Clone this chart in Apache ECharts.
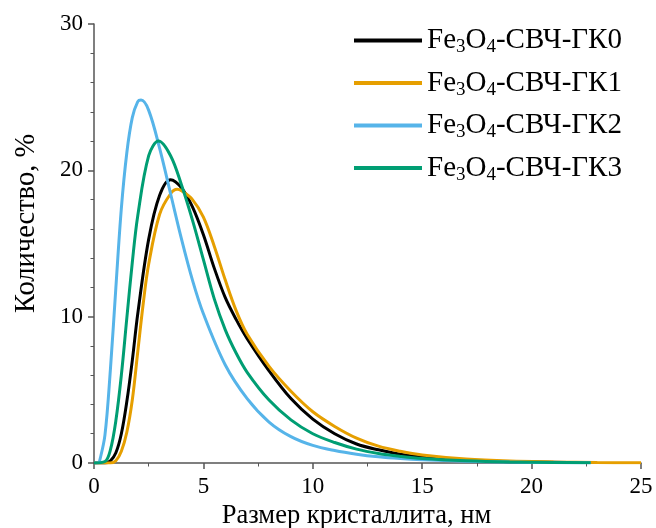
<!DOCTYPE html>
<html>
<head>
<meta charset="utf-8">
<script src="https://cdn.jsdelivr.net/npm/echarts@6/dist/echarts.min.js"></script>
<style>html,body{margin:0;padding:0;background:#fff;}#c{width:656px;height:528px;}</style>
</head>
<body>
<div id="c"></div>
<script>
// Data
const seriesNames = ['Fe3O4-СВЧ-ГК0', 'Fe3O4-СВЧ-ГК1', 'Fe3O4-СВЧ-ГК2', 'Fe3O4-СВЧ-ГК3'];
const legendLabels = ['Fe{s|3}O{s|4}-СВЧ-ГК0', 'Fe{s|3}O{s|4}-СВЧ-ГК1', 'Fe{s|3}O{s|4}-СВЧ-ГК2', 'Fe{s|3}O{s|4}-СВЧ-ГК3'];

const xGK0 = [0, 0.5, 0.75, 1, 1.25, 1.5, 1.75, 2, 2.5, 3, 3.5, 4, 4.5, 5, 5.5, 6, 6.5, 7, 8, 9, 10, 11, 12, 13, 14, 15, 17, 19, 21, 22.7];
const yGK0 = [0, 0, 0.15, 0.7, 2.0, 4.2, 7.0, 10.2, 15.3, 18.3, 19.36, 18.8, 17.5, 15.6, 13.3, 11.3, 9.8, 8.5, 6.3, 4.4, 3.0, 2.0, 1.3, 0.9, 0.6, 0.4, 0.18, 0.09, 0.05, 0.03];

const xGK1 = [0, 0.75, 1, 1.25, 1.5, 1.75, 2, 2.25, 2.5, 3, 3.5, 3.8, 4, 4.5, 5, 5.5, 6, 6.5, 7, 8, 9, 10, 11, 12, 13, 14, 15, 17, 19, 21, 23, 25];
const yGK1 = [0, 0, 0.15, 0.8, 2.1, 4.3, 7.6, 10.9, 13.6, 17.0, 18.4, 18.7, 18.6, 18.0, 16.8, 14.8, 12.5, 10.4, 8.8, 6.6, 4.9, 3.5, 2.5, 1.7, 1.15, 0.8, 0.55, 0.27, 0.13, 0.07, 0.03, 0.01];

const xGK2 = [0, 0.2, 0.25, 0.5, 0.75, 1, 1.25, 1.5, 1.75, 2, 2.15, 2.5, 3, 3.5, 4, 4.5, 5, 6, 7, 8, 9, 10, 11, 12, 13, 14, 15, 17, 19, 21, 22.7];
const yGK2 = [0, 0.02, 0.1, 1.9, 6.4, 12.0, 17.4, 21.2, 23.6, 24.7, 24.8, 24.1, 21.5, 18.4, 15.3, 12.5, 10.2, 6.7, 4.4, 2.8, 1.8, 1.2, 0.85, 0.6, 0.42, 0.3, 0.22, 0.12, 0.06, 0.03, 0.02];

const xGK3 = [0, 0.5, 0.75, 1, 1.25, 1.5, 1.75, 2, 2.5, 2.95, 3.5, 4, 4.5, 5, 5.5, 6, 6.5, 7, 8, 9, 10, 11, 12, 13, 14, 15, 17, 19, 21, 22.7];
const yGK3 = [0, 0.1, 0.9, 2.9, 6.0, 9.9, 13.7, 16.9, 21.0, 22.0, 21.0, 19.0, 16.6, 13.9, 11.2, 9.1, 7.5, 6.2, 4.3, 2.95, 2.0, 1.4, 0.95, 0.65, 0.45, 0.3, 0.15, 0.07, 0.04, 0.02];

const xTicks = { min: 0, max: 25, interval: 5 };
const yTicks = { min: 0, max: 30, interval: 10 };
const colors = ['#000000', '#E69F00', '#56B4E9', '#009E73'];

const xs = [xGK0, xGK1, xGK2, xGK3];
const ys = [yGK0, yGK1, yGK2, yGK3];

const FONT = '"Liberation Serif", "Times New Roman", serif';
const chart = echarts.init(document.getElementById('c'), null, { renderer: 'canvas' });

const series = seriesNames.map((n, i) => ({
  name: n,
  type: 'line',
  smooth: 0.35,
  showSymbol: false,
  symbol: 'none',
  lineStyle: { color: colors[i], width: 3 },
  itemStyle: { color: colors[i] },
  data: xs[i].map((x, j) => [x, ys[i][j]]),
  z: 3
}));

const axisCommon = {
  axisLine: { show: true, lineStyle: { color: '#555', width: 1.5 } },
  axisTick: { show: true, inside: false, length: 6, lineStyle: { color: '#555', width: 1.5 } },
  minorTick: { show: true, length: 3.5, lineStyle: { color: '#555', width: 1 } },
  splitLine: { show: false },
  minorSplitLine: { show: false },
  axisLabel: { color: '#000', fontFamily: FONT, fontSize: 23 }
};

chart.setOption({
  animation: false,
  backgroundColor: '#fff',
  grid: { left: 94, right: 15, top: 24, bottom: 65, containLabel: false, outerBoundsMode: 'none' },
  legend: {
    orient: 'vertical',
    left: 349,
    top: 21,
    itemWidth: 68,
    itemHeight: 4,
    itemGap: 11.5,
    icon: 'rect',
    data: seriesNames,
    formatter: (name) => legendLabels[seriesNames.indexOf(name)],
    textStyle: {
      color: '#000', fontFamily: FONT, fontSize: 29,
      rich: {
        s: { fontFamily: FONT, fontSize: 19, padding: [14, 0, 0, 0], color: '#000' }
      }
    }
  },
  xAxis: Object.assign({}, axisCommon, {
    type: 'value',
    min: xTicks.min, max: xTicks.max, interval: xTicks.interval,
    minorTick: Object.assign({}, axisCommon.minorTick, { splitNumber: 2 }),
    axisLabel: Object.assign({}, axisCommon.axisLabel, { margin: 12 }),
    name: 'Размер кристаллита, нм',
    nameLocation: 'middle',
    nameGap: 36,
    nameTextStyle: { color: '#000', fontFamily: FONT, fontSize: 26.5, padding: [0, 22, 0, 0] }
  }),
  yAxis: Object.assign({}, axisCommon, {
    type: 'value',
    min: yTicks.min, max: yTicks.max, interval: yTicks.interval,
    minorTick: Object.assign({}, axisCommon.minorTick, { splitNumber: 5 }),
    axisLabel: Object.assign({}, axisCommon.axisLabel, { margin: 11 }),
    name: 'Количество, %',
    nameLocation: 'middle',
    nameGap: 53,
    nameRotate: 90,
    nameTextStyle: { color: '#000', fontFamily: FONT, fontSize: 28.5, padding: [0, 0, 0, 40] }
  }),
  series: series
});
</script>
</body>
</html>
